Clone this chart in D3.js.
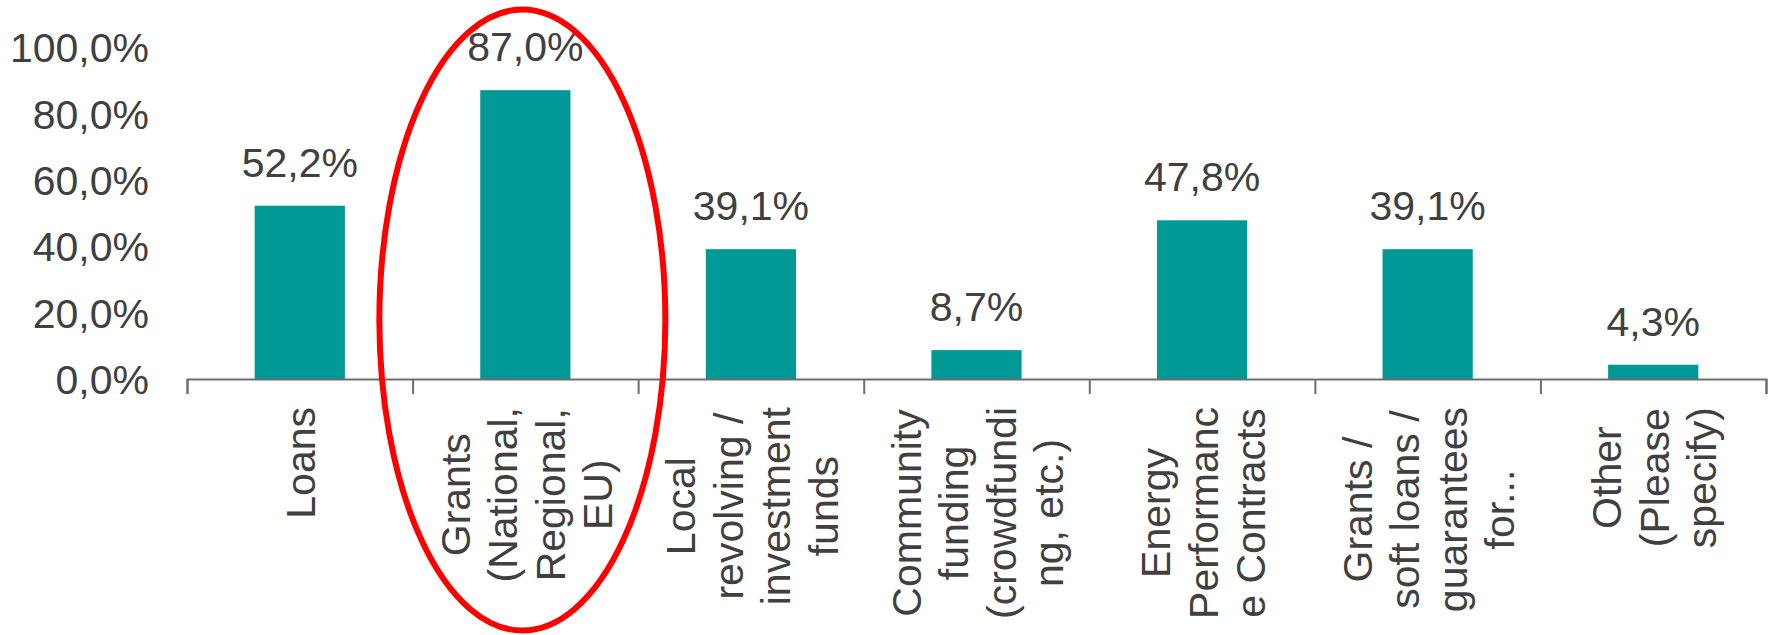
<!DOCTYPE html>
<html>
<head>
<meta charset="utf-8">
<script src="https://cdn.jsdelivr.net/npm/d3@7"></script>
<style>
  html, body { margin: 0; padding: 0; background: #ffffff; }
  svg { display: block; }
  text { font-family: "Liberation Sans", Arial, sans-serif; fill: #404040; }
</style>
</head>
<body>
<svg id="chart" width="1773" height="635"></svg>
<script>
// Financing instruments used (share of respondents)
const categories = [
  "Loans",
  "Grants (National, Regional, EU)",
  "Local revolving / investment funds",
  "Community funding (crowdfunding, etc.)",
  "Energy Performance Contracts",
  "Grants / soft loans / guarantees for...",
  "Other (Please specify)"
];
// Wrapped category labels as they are printed under the axis
const categoryLines = [
  ["Loans"],
  ["Grants", "(National,", "Regional,", "EU)"],
  ["Local", "revolving /", "investment", "funds"],
  ["Community", "funding", "(crowdfundi", "ng, etc.)"],
  ["Energy", "Performanc", "e Contracts"],
  ["Grants /", "soft loans /", "guarantees", "for..."],
  ["Other", "(Please", "specify)"]
];
const values = [52.2, 87.0, 39.1, 8.7, 47.8, 39.1, 4.3];
const yTicks = [0, 20, 40, 60, 80, 100];
const highlighted = "Grants (National, Regional, EU)";

const svg = d3.select("#chart");
const fontSize = 41;
const lineHeight = 47.5;

const plotLeft = 187, plotRight = 1766, plotTop = 47, plotBottom = 379;

const x = d3.scaleBand()
  .domain(categories)
  .range([plotLeft, plotRight])
  .paddingInner(0.6)
  .paddingOuter(0.3);

const y = d3.scaleLinear().domain([0, 100]).range([plotBottom, plotTop]);

// Comma decimal separator
const locale = d3.formatLocale({ decimal: ",", thousands: ".", grouping: [3], currency: ["", "€"] });
const pct = v => locale.format(".1f")(v) + "%";

// Y axis: labels only
const yAxis = svg.append("g")
  .attr("transform", `translate(${149},0)`)
  .call(d3.axisLeft(y).tickValues(yTicks).tickSize(0).tickPadding(0).tickFormat(pct));
yAxis.select(".domain").remove();
yAxis.selectAll("text")
  .attr("font-size", fontSize)
  .attr("font-family", "'Liberation Sans', Arial, sans-serif")
  .attr("fill", "#404040")
  .attr("dy", "0.36em");

// Bars
svg.append("g").selectAll("rect")
  .data(values)
  .join("rect")
  .attr("x", (d, i) => x(categories[i]))
  .attr("y", d => y(d))
  .attr("width", x.bandwidth())
  .attr("height", d => y(0) - y(d))
  .attr("fill", "#009996");

// Value labels above bars
svg.append("g").selectAll("text")
  .data(values)
  .join("text")
  .attr("x", (d, i) => x(categories[i]) + x.bandwidth() / 2)
  .attr("y", d => y(d) - 29)
  .attr("text-anchor", "middle")
  .attr("font-size", fontSize)
  .text(d => pct(d));

// Category axis: baseline and boundary ticks
const edges = d3.scaleLinear().domain([0, categories.length]).range([plotLeft, plotRight]);
const xAxis = svg.append("g")
  .attr("transform", `translate(0,${plotBottom})`)
  .call(d3.axisBottom(edges).tickValues(d3.range(categories.length + 1)).tickSize(15).tickSizeOuter(15).tickFormat(""));
xAxis.select(".domain").attr("stroke", "#6e6e6e").attr("stroke-width", 2);
xAxis.selectAll(".tick line").attr("stroke", "#6e6e6e").attr("stroke-width", 2);

// Rotated multi-line category labels
const labelTop = 407;
const labels = svg.append("g").selectAll("g")
  .data(categories)
  .join("g")
  .attr("transform", d => `translate(${x(d) + x.bandwidth() / 2},${labelTop}) rotate(-90)`);

labels.each(function (d, i) {
  const lines = categoryLines[i];
  const g = d3.select(this);
  const t = g.append("text")
    .attr("font-size", fontSize)
    .attr("text-anchor", "middle");
  const n = lines.length;
  lines.forEach((ln, j) => {
    t.append("tspan")
      .attr("x", 0)
      .attr("y", (j - (n - 1) / 2) * lineHeight + 0.38 * fontSize)
      .text(ln);
  });
  const maxW = d3.max(t.selectAll("tspan").nodes(), n => n.getComputedTextLength());
  t.selectAll("tspan").attr("x", -maxW / 2);
});

// Highlight ring around the grants category
const hx = x(highlighted) + x.bandwidth() / 2;
svg.append("ellipse")
  .attr("cx", hx - 3)
  .attr("cy", 320)
  .attr("rx", 143)
  .attr("ry", 310.5)
  .attr("fill", "none")
  .attr("stroke", "#ff0000")
  .attr("stroke-width", 6);
</script>
</body>
</html>
